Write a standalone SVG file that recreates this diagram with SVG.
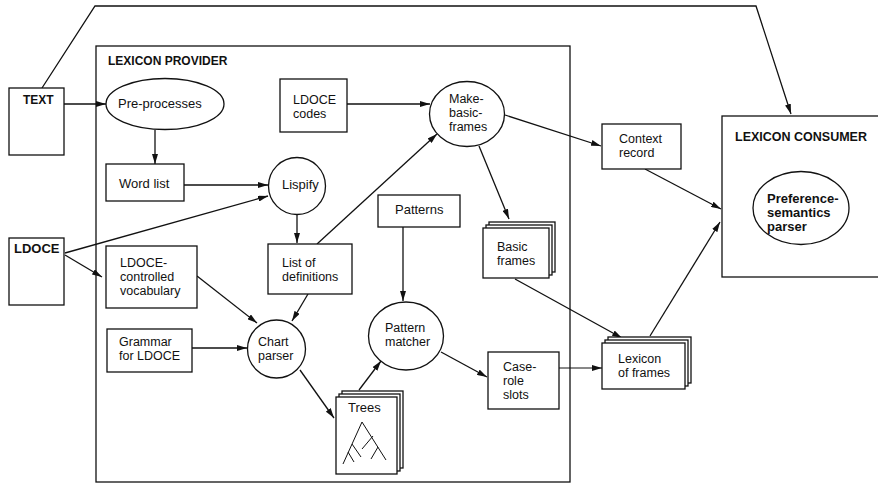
<svg xmlns="http://www.w3.org/2000/svg" width="878" height="483" viewBox="0 0 878 483">
<defs>
<marker id="ah" viewBox="0 0 10 6" refX="10" refY="3" markerWidth="10" markerHeight="6" markerUnits="userSpaceOnUse" orient="auto">
<path d="M0,0 L10,3 L0,6 z" fill="#111"/>
</marker>
<style>
.b{fill:#fff;stroke:#111;stroke-width:1.3}
.t{font-family:"Liberation Sans",Arial,sans-serif;font-size:12.5px;fill:#111}
.tb{font-family:"Liberation Sans",Arial,sans-serif;font-size:12.5px;font-weight:bold;fill:#111}
.c{fill:none;stroke:#111;stroke-width:1.3}
.ca{fill:none;stroke:#111;stroke-width:1.3;marker-end:url(#ah)}
</style>
</defs>
<rect width="878" height="483" fill="#fff"/>

<g id="provider">
<rect class="b" x="96" y="46" width="474" height="436" fill="none"/>
<text class="tb" x="108" y="65" style="font-size:12px">LEXICON PROVIDER</text>
</g>

<g id="consumer">
<rect class="b" x="722" y="116" width="170" height="161"/>
<text class="tb" x="735" y="141">LEXICON CONSUMER</text>
<ellipse class="b" cx="801" cy="208" rx="48" ry="36.5"/>
<text class="tb" style="font-size:13px"><tspan x="767" y="203">Preference-</tspan><tspan x="767" y="217">semantics</tspan><tspan x="767" y="231">parser</tspan></text>
</g>

<g id="connectors">
<polyline class="ca" points="42,88 95,6 756,6 791,114"/>
<line class="ca" x1="64" y1="104" x2="106" y2="104"/>
<line class="ca" x1="155" y1="130" x2="155" y2="164"/>
<line class="ca" x1="184" y1="185" x2="268" y2="185"/>
<line class="ca" x1="65" y1="253" x2="268" y2="196"/>
<line class="ca" x1="65" y1="255" x2="102" y2="277"/>
<line class="ca" x1="297" y1="214" x2="297" y2="243"/>
<line class="ca" x1="197" y1="276" x2="257" y2="323"/>
<line class="ca" x1="308" y1="294" x2="292" y2="321"/>
<line class="ca" x1="192" y1="348" x2="247" y2="348"/>
<line class="ca" x1="317" y1="244" x2="437" y2="134"/>
<line class="ca" x1="347" y1="104" x2="430" y2="104"/>
<line class="ca" x1="505" y1="115" x2="601" y2="146"/>
<line class="ca" x1="479" y1="146" x2="509" y2="219"/>
<line class="ca" x1="645" y1="169" x2="721" y2="209"/>
<line class="ca" x1="515" y1="279" x2="622" y2="338"/>
<line class="ca" x1="650" y1="336" x2="720" y2="222"/>
<line class="ca" x1="403" y1="227" x2="403" y2="301"/>
<line class="ca" x1="300" y1="370" x2="334" y2="418"/>
<line class="ca" x1="359" y1="390" x2="381" y2="361"/>
<line class="ca" x1="441" y1="352" x2="487" y2="377"/>
<line class="ca" x1="559" y1="368" x2="602" y2="368" style="stroke-width:1"/>
</g>

<g id="text-doc">
<rect class="b" x="9" y="88" width="55" height="67"/>
<text class="tb" x="23" y="104" style="font-size:12px">TEXT</text>
</g>

<g id="ldoce-doc">
<rect class="b" x="9" y="238" width="55" height="67"/>
<text class="tb" x="14" y="253" style="font-size:13px">LDOCE</text>
</g>

<g id="pre-processes">
<ellipse class="b" cx="165" cy="104" rx="59" ry="25.5"/>
<text class="t" x="118" y="108" style="font-size:13px">Pre-processes</text>
</g>

<g id="word-list">
<rect class="b" x="106" y="164" width="78" height="37"/>
<text class="t" x="119" y="188" style="font-size:13px">Word list</text>
</g>

<g id="lispify">
<circle class="b" cx="297" cy="186" r="28.5"/>
<text class="t" x="282" y="189" style="font-size:13px">Lispify</text>
</g>

<g id="ldoce-codes">
<rect class="b" x="280" y="79" width="67" height="53"/>
<text class="t"><tspan x="293" y="104">LDOCE</tspan><tspan x="293" y="118">codes</tspan></text>
</g>

<g id="make-basic-frames">
<ellipse class="b" cx="467" cy="114" rx="37.5" ry="32.5"/>
<text class="t"><tspan x="449" y="103">Make-</tspan><tspan x="449" y="117">basic-</tspan><tspan x="449" y="131">frames</tspan></text>
</g>

<g id="ldoce-vocab">
<rect class="b" x="106" y="246" width="91" height="62"/>
<text class="t"><tspan x="120" y="267">LDOCE-</tspan><tspan x="120" y="281">controlled</tspan><tspan x="120" y="295">vocabulary</tspan></text>
</g>

<g id="list-of-definitions">
<rect class="b" x="268" y="244" width="84" height="50"/>
<text class="t"><tspan x="282" y="267">List of</tspan><tspan x="282" y="281">definitions</tspan></text>
</g>

<g id="patterns">
<rect class="b" x="378" y="195" width="82" height="32"/>
<text class="t" x="395" y="214" style="font-size:13px">Patterns</text>
</g>

<g id="grammar">
<rect class="b" x="107" y="329" width="85" height="43"/>
<text class="t"><tspan x="119" y="346">Grammar</tspan><tspan x="119" y="360">for LDOCE</tspan></text>
</g>

<g id="chart-parser">
<circle class="b" cx="276.5" cy="349" r="29"/>
<text class="t"><tspan x="258" y="346">Chart</tspan><tspan x="258" y="360">parser</tspan></text>
</g>

<g id="pattern-matcher">
<ellipse class="b" cx="406" cy="336" rx="37.5" ry="34"/>
<text class="t"><tspan x="385" y="332">Pattern</tspan><tspan x="385" y="346">matcher</tspan></text>
</g>

<g id="trees">
<rect class="b" x="342" y="391" width="61" height="77"/>
<rect class="b" x="339" y="394" width="61" height="77"/>
<rect class="b" x="336" y="397" width="61" height="77"/>
<text class="t" x="348" y="412" style="font-size:13px">Trees</text>
<path class="c" d="M362,422 L343,464 M362,422 L386,460 M352,444 L361,457 M348,452 L354,462 M373,436 L362,449 M378,447 L371,459" style="stroke-width:1"/>
</g>

<g id="basic-frames">
<rect class="b" x="489" y="222" width="66" height="50"/>
<rect class="b" x="486" y="225" width="66" height="50"/>
<rect class="b" x="483" y="228" width="66" height="50"/>
<text class="t"><tspan x="497" y="251">Basic</tspan><tspan x="497" y="265">frames</tspan></text>
</g>

<g id="context-record">
<rect class="b" x="602" y="124" width="79" height="45"/>
<text class="t"><tspan x="619" y="143">Context</tspan><tspan x="619" y="157">record</tspan></text>
</g>

<g id="case-role-slots">
<rect class="b" x="488" y="352" width="71" height="57"/>
<text class="t"><tspan x="503" y="371">Case-</tspan><tspan x="503" y="385">role</tspan><tspan x="503" y="399">slots</tspan></text>
</g>

<g id="lexicon-of-frames">
<rect class="b" x="608" y="337" width="83" height="46"/>
<rect class="b" x="605" y="340" width="83" height="46"/>
<rect class="b" x="602" y="343" width="83" height="46"/>
<text class="t"><tspan x="618" y="363">Lexicon</tspan><tspan x="618" y="377">of frames</tspan></text>
</g>
</svg>
